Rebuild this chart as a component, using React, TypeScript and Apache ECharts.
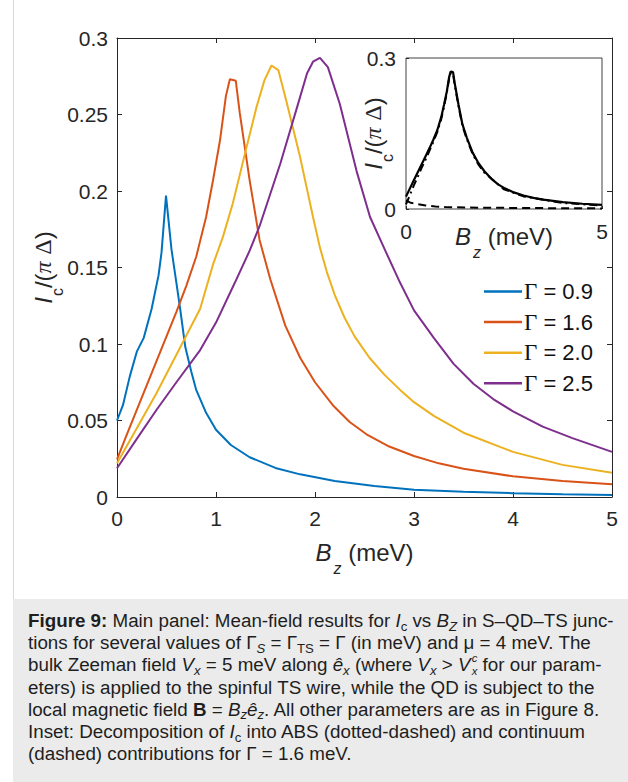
import React, { useEffect, useRef } from "react";
import * as echarts from "echarts";

// ---------- data ----------
const seriesNames = ["Γ = 0.9", "Γ = 1.6", "Γ = 2.0", "Γ = 2.5"];
const seriesColors = ["#0072BD", "#D95319", "#EDB120", "#7E2F8E"];

const gamma09: [number, number][] = [
  [0, 0.05], [0.06, 0.06], [0.13, 0.079], [0.2, 0.095], [0.27, 0.104], [0.35, 0.123],
  [0.42, 0.145], [0.45, 0.16], [0.495, 0.197], [0.55, 0.162], [0.6, 0.14], [0.64, 0.122],
  [0.69, 0.098], [0.75, 0.082], [0.8, 0.07], [0.9, 0.055], [1.0, 0.044], [1.15, 0.034],
  [1.34, 0.026], [1.6, 0.019], [1.85, 0.0148], [2.2, 0.0105], [2.6, 0.0072], [3.0, 0.0048],
  [3.5, 0.0034], [4.0, 0.0025], [4.5, 0.0018], [5.0, 0.0013],
];

const gamma16: [number, number][] = [
  [0, 0.0246], [0.1, 0.041], [0.2, 0.057], [0.3, 0.073], [0.4, 0.089], [0.5, 0.105],
  [0.6, 0.121], [0.7, 0.138], [0.8, 0.157], [0.9, 0.183], [0.97, 0.207], [1.04, 0.233],
  [1.1, 0.262], [1.14, 0.273], [1.2, 0.272], [1.24, 0.251], [1.34, 0.207], [1.44, 0.168],
  [1.55, 0.142], [1.7, 0.112], [1.85, 0.091], [2.0, 0.075], [2.18, 0.06], [2.35, 0.049],
  [2.52, 0.041], [2.75, 0.033], [3.0, 0.0268], [3.25, 0.022], [3.5, 0.0185], [4.0, 0.0135],
  [4.5, 0.0104], [5.0, 0.0083],
];

const gamma20: [number, number][] = [
  [0, 0.022], [0.2, 0.045], [0.4, 0.068], [0.6, 0.093], [0.84, 0.123], [0.97, 0.152],
  [1.07, 0.17], [1.17, 0.192], [1.31, 0.229], [1.41, 0.255], [1.49, 0.2725], [1.56, 0.282],
  [1.63, 0.279], [1.71, 0.259], [1.85, 0.222], [1.98, 0.183], [2.05, 0.163], [2.12, 0.147],
  [2.2, 0.132], [2.3, 0.117], [2.4, 0.105], [2.55, 0.091], [2.7, 0.08], [2.86, 0.07],
  [3.0, 0.062], [3.2, 0.053], [3.5, 0.042], [4.0, 0.0295], [4.5, 0.021], [5.0, 0.0159],
];

const gamma25: [number, number][] = [
  [0, 0.0188], [0.2, 0.038], [0.4, 0.057], [0.6, 0.075], [0.84, 0.096], [1.0, 0.114],
  [1.19, 0.14], [1.34, 0.161], [1.44, 0.177], [1.65, 0.218], [1.82, 0.255], [1.92, 0.277],
  [1.98, 0.2845], [2.05, 0.287], [2.13, 0.281], [2.25, 0.257], [2.42, 0.213], [2.556, 0.183],
  [2.71, 0.161], [2.86, 0.14], [3.0, 0.122], [3.2, 0.104], [3.4, 0.087], [3.6, 0.074],
  [3.8, 0.064], [4.0, 0.056], [4.3, 0.046], [4.6, 0.0385], [5.0, 0.0295],
];

// inset: decomposition of the Γ = 1.6 curve
const insetABS: [number, number][] = [
  [0, 0.009], [0.1, 0.028], [0.2, 0.047], [0.3, 0.064], [0.4, 0.082], [0.5, 0.098],
  [0.6, 0.116], [0.7, 0.134], [0.8, 0.153], [0.9, 0.179], [0.97, 0.203], [1.04, 0.23],
  [1.1, 0.259], [1.14, 0.27], [1.2, 0.269], [1.24, 0.248], [1.34, 0.204], [1.44, 0.165],
  [1.55, 0.139], [1.7, 0.109], [1.85, 0.088], [2.0, 0.072], [2.5, 0.039], [3.0, 0.025],
  [4.0, 0.012], [5.0, 0.007],
];
const insetContinuum: [number, number][] = [
  [0, 0.017], [0.1, 0.013], [0.25, 0.01], [0.5, 0.007], [0.75, 0.005], [1.0, 0.004],
  [1.5, 0.003], [2.0, 0.0025], [3.0, 0.002], [4.0, 0.0015], [5.0, 0.0012],
];

const xTickStep = 1;
const yTickStep = 0.05;

// ---------- styles ----------
const AX = "#262626";
const SANS = "'Liberation Sans', Arial, Helvetica, sans-serif";
const SERIF = "'Liberation Serif', 'Times New Roman', serif";

const nameRich: any = {
  it: { fontFamily: SANS, fontStyle: "italic", fontSize: 24, lineHeight: 24, verticalAlign: "top", color: AX },
  sub: { fontFamily: SANS, fontSize: 16, lineHeight: 16, padding: [18, 0, 0, 1], verticalAlign: "top", color: AX },
  subi: { fontFamily: SANS, fontStyle: "italic", fontSize: 16, lineHeight: 16, padding: [20, 0, 0, 2], verticalAlign: "top", color: AX },
  n: { fontFamily: SANS, fontSize: 24, lineHeight: 24, verticalAlign: "top", color: AX },
  pi: { fontFamily: SERIF, fontStyle: "italic", fontSize: 24, lineHeight: 24, verticalAlign: "top", color: AX },
  dl: { fontFamily: SERIF, fontSize: 24, lineHeight: 24, verticalAlign: "top", color: AX },
};
const yName = "{it|I}{sub|c}{n|/(}{pi|π}{n| }{dl|Δ}{n|)}";
const xName = "{it|B}{subi|z}{n| (meV)}";

const tickLabel = { fontFamily: SANS, fontSize: 21, color: AX };

function buildOption(): any {
  const mainLines = [gamma09, gamma16, gamma20, gamma25].map((d, i) => ({
    type: "line",
    name: seriesNames[i],
    xAxisIndex: 0,
    yAxisIndex: 0,
    data: d,
    symbol: "none",
    showSymbol: false,
    lineStyle: { color: seriesColors[i], width: 2 },
    itemStyle: { color: seriesColors[i] },
    z: 3,
  }));
  const insetSeries = [
    {
      type: "line", name: "ABS", xAxisIndex: 2, yAxisIndex: 2, data: insetABS, symbol: "none",
      lineStyle: { color: "#000", width: 2, type: [8, 4, 2, 4] }, z: 6,
    },
    {
      type: "line", name: "continuum", xAxisIndex: 2, yAxisIndex: 2, data: insetContinuum, symbol: "none",
      lineStyle: { color: "#000", width: 2, type: [8, 5] }, z: 6,
    },
    {
      type: "line", name: "total", xAxisIndex: 2, yAxisIndex: 2, data: gamma16, symbol: "none",
      lineStyle: { color: "#000", width: 2.2 }, z: 7,
    },
  ];

  const tick = (len: number) => ({ show: true, inside: true, length: len, lineStyle: { color: AX, width: 1 } });
  const line = { show: true, onZero: false, lineStyle: { color: AX, width: 1 } };

  return {
    animation: false,
    backgroundColor: "#ffffff",
    grid: [
      { left: 117, top: 38, width: 495, height: 459, show: false },
      { left: 406, top: 58, width: 196, height: 151, show: true, backgroundColor: "#fff", borderColor: "#404040", borderWidth: 1, z: 5 },
    ],
    legend: {
      data: seriesNames.map((n, i) => ({ name: n, icon: "rect", itemStyle: { color: seriesColors[i] } })),
      orient: "vertical",
      left: 479,
      top: 275,
      itemWidth: 38,
      itemHeight: 2.5,
      itemGap: 7.6,
      selectedMode: false,
      formatter: (n: string) => "{g|Γ}{t|" + n.slice(1) + "}",
      textStyle: {
        padding: [0, 0, 0, -3],
        rich: {
          g: { fontFamily: SERIF, fontSize: 23, color: "#111" },
          t: { fontFamily: SANS, fontSize: 22, color: "#111" },
        },
      },
    },
    xAxis: [
      {
        type: "value", gridIndex: 0, position: "bottom", min: 0, max: 5, interval: xTickStep,
        axisLine: line, axisTick: tick(5), splitLine: { show: false },
        axisLabel: { ...tickLabel, margin: 11 },
        name: xName, nameLocation: "middle", nameGap: 43, nameMoveOverlap: false, nameTextStyle: { rich: nameRich },
      },
      {
        type: "value", gridIndex: 0, position: "top", min: 0, max: 5, interval: xTickStep,
        axisLine: line, axisTick: tick(5), splitLine: { show: false }, axisLabel: { show: false },
      },
      {
        type: "value", gridIndex: 1, position: "bottom", min: 0, max: 5, interval: 5,
        axisLine: { show: false }, axisTick: tick(3), splitLine: { show: false },
        axisLabel: { ...tickLabel, margin: 12 },
        name: xName, nameLocation: "middle", nameGap: 15, nameMoveOverlap: false, nameTextStyle: { rich: nameRich },
        z: 6,
      },
    ],
    yAxis: [
      {
        type: "value", gridIndex: 0, position: "left", min: 0, max: 0.3, interval: yTickStep,
        axisLine: line, axisTick: tick(5), splitLine: { show: false },
        axisLabel: { ...tickLabel, margin: 9 },
        name: yName, nameLocation: "middle", nameRotate: 90, nameGap: 62, nameMoveOverlap: false, nameTextStyle: { rich: nameRich },
      },
      {
        type: "value", gridIndex: 0, position: "right", min: 0, max: 0.3, interval: yTickStep,
        axisLine: line, axisTick: tick(5), splitLine: { show: false }, axisLabel: { show: false },
      },
      {
        type: "value", gridIndex: 1, position: "left", min: 0, max: 0.3, interval: 0.3,
        axisLine: { show: false }, axisTick: tick(3), splitLine: { show: false },
        axisLabel: { ...tickLabel, margin: 10 },
        name: yName, nameLocation: "middle", nameRotate: 90, nameGap: 21, nameMoveOverlap: false, nameTextStyle: { rich: nameRich },
        z: 6,
      },
    ],
    series: [...mainLines, ...insetSeries],
  };
}

const Sub = ({ children, it }: { children: any; it?: boolean }) => (
  <span
    style={{
      display: "inline-block", fontSize: "0.7em", lineHeight: "0.75em", height: "0.75em",
      verticalAlign: "-0.28em", fontStyle: it ? "italic" : "normal",
    }}
  >
    {children}
  </span>
);
// stacked super/subscript (e.g. V_x^c)
const SubSup = ({ sub, sup }: { sub: string; sup: string }) => (
  <>
    <span style={{ fontSize: "0.6em", fontStyle: "italic", position: "relative", top: "-0.81em", lineHeight: 0, marginLeft: "0.1em" }}>{sup}</span>
    <span style={{ fontSize: "0.6em", fontStyle: "italic", position: "relative", top: "0.345em", lineHeight: 0, marginLeft: "-0.5em" }}>{sub}</span>
  </>
);
const I = ({ children }: { children: any }) => <span style={{ fontStyle: "italic" }}>{children}</span>;

export default function App() {
  const ref = useRef<HTMLDivElement>(null);
  useEffect(() => {
    if (!ref.current) return;
    const chart = echarts.init(ref.current, undefined, { renderer: "svg" });
    chart.setOption(buildOption());
    return () => chart.dispose();
  }, []);

  const lineStyle: React.CSSProperties = { whiteSpace: "nowrap", height: 22.2, lineHeight: "22.2px" };

  return (
    <div style={{ position: "fixed", left: 0, top: 0, width: 628, height: 782, background: "#fff", overflow: "hidden" }}>
      <div ref={ref} style={{ position: "absolute", left: 0, top: 0, width: 628, height: 599 }} />
      <div style={{ position: "absolute", left: 13, top: 0, width: 1, height: 599, background: "#d9d9d9" }} />
      <div
        style={{
          position: "absolute", left: 13, top: 599, width: 615, height: 183, background: "#ebebeb",
          fontFamily: SANS, fontSize: 18.8, color: "#1e1e1e", paddingLeft: 15, paddingTop: 11, boxSizing: "border-box",
        }}
      >
        <div style={lineStyle}><b>Figure 9:</b> Main panel: Mean-field results for <I>I</I><Sub>c</Sub> vs <I>B</I><Sub it>Z</Sub> in S–QD–TS junc-</div>
        <div style={lineStyle}>tions for several values of Γ<Sub it>S</Sub> = Γ<Sub>TS</Sub> = Γ (in meV) and μ = 4 meV. The</div>
        <div style={lineStyle}>bulk Zeeman field <I>V</I><Sub it>x</Sub> = 5 meV along <I>ê</I><Sub it>x</Sub> (where <I>V</I><Sub it>x</Sub> &gt; <I>V</I><SubSup sub="x" sup="c" /> for our param-</div>
        <div style={lineStyle}>eters) is applied to the spinful TS wire, while the QD is subject to the</div>
        <div style={lineStyle}>local magnetic field <b>B</b> = <I>B</I><Sub it>z</Sub><I>ê</I><Sub it>z</Sub>. All other parameters are as in Figure 8.</div>
        <div style={lineStyle}>Inset: Decomposition of <I>I</I><Sub>c</Sub> into ABS (dotted-dashed) and continuum</div>
        <div style={lineStyle}>(dashed) contributions for Γ = 1.6 meV.</div>
      </div>
    </div>
  );
}
